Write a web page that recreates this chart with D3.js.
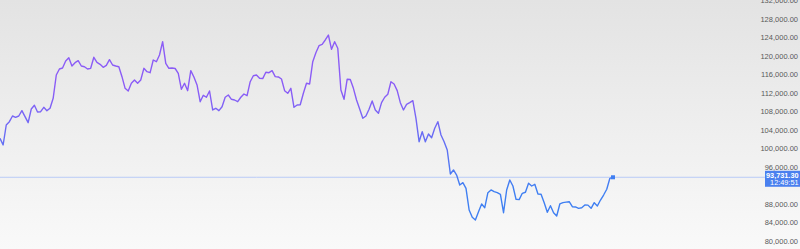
<!DOCTYPE html>
<meta charset="utf-8">
<style>
  body { margin: 0; overflow: hidden; }
  text { font-family: "Liberation Sans", Arial, sans-serif; }
</style>
<svg width="800" height="249"></svg>

<script src="https://cdn.jsdelivr.net/npm/d3@7"></script>
<script>

    // daily closes (first day = startDate)
    var startDate = new Date(2025, 5, 22)
    var prices = [
        102170, 100720, 105050, 105760, 107000, 106720, 107000, 108150, 106850, 105550,
        108510, 109310, 107860, 107930, 108880, 108150, 108670, 110830, 115870, 117170,
        117390, 118900, 119620, 117820, 118540, 118970, 117820, 117670, 117170, 117320,
        119710, 118620, 118190, 117540, 117970, 119190, 118040, 117820, 117670, 115510,
        112990, 112410, 114080, 114790, 114080, 114790, 117320, 116590, 116370, 119120,
        118750, 120200, 123080, 118410, 117320, 117400, 117280, 116240, 112780, 114080,
        112480, 116810, 115440, 113710, 110090, 111480, 111050, 112410, 108300, 108670,
        108150, 109010, 111050, 111540, 110610, 110460, 110090, 111050, 111760, 111390,
        114420, 115720, 115870, 115160, 115100, 116460, 116370, 116810, 115510, 115450,
        115010, 112480, 111910, 112990, 108880, 109380, 109420, 111910, 114080, 113930,
        118750, 120700, 122220, 122520, 123450, 124530, 121440, 123080, 121650, 112630,
        110610, 114940, 114900, 112990, 110460, 108510, 106500, 107000, 108450, 110250,
        108300, 107580, 109880, 111050, 111700, 114420, 113930, 112480, 109880, 108300,
        109530, 109880, 110310, 106500, 101430, 103600, 101430, 103100, 102300, 104330,
        105760, 102880, 101430, 99640, 94440, 95310, 94220, 92060, 92560, 91340,
        86650, 85070, 84480, 86280, 87950, 87140, 90390, 90980, 90610, 90390,
        90050, 86060, 90980, 93140, 91840, 88960, 88900, 90260, 90480, 92430,
        91840, 92210, 90110, 90050, 88230, 86150, 87580, 86060, 85350, 87950,
        88230, 88340, 88440, 87360, 87300, 87010, 87140, 87730, 87700, 87010,
        88230, 87510, 88810, 89890, 91130, 93510, 93731.3
    ]
    var dates = prices.map(function (p, i) { return d3.timeDay.offset(startDate, i) })
    var yTicks = [80000, 84000, 88000, 96000, 100000, 104000, 108000, 112000, 116000, 120000, 124000, 128000, 132000]
    var lastPrice = 93731.30
    var lastTime = '12:49:51'

    var width = 800
    var height = 249

    var svg = d3.select('svg')

    var x = d3.scaleTime()
        .domain([dates[0], dates[dates.length - 1]])
        .range([0, 613])

    var y = d3.scaleLinear()
        .domain([80000, 132000])
        .range([240.7, 0.5])

    var defs = svg.append('defs')

    var bg = defs.append('linearGradient')
        .attr('id', 'bg')
        .attr('x1', 0).attr('y1', 0).attr('x2', 0).attr('y2', 1)
    bg.append('stop').attr('offset', '0%').attr('stop-color', '#e3e3e3')
    bg.append('stop').attr('offset', '100%').attr('stop-color', '#f9f9f9')

    var lineGrad = defs.append('linearGradient')
        .attr('id', 'lineGrad')
        .attr('gradientUnits', 'userSpaceOnUse')
        .attr('x1', 0).attr('y1', 90).attr('x2', 0).attr('y2', 190)
    lineGrad.append('stop').attr('offset', '0%').attr('stop-color', '#8b5cf6')
    lineGrad.append('stop').attr('offset', '100%').attr('stop-color', '#3f7ff2')

    svg.append('rect')
        .attr('width', width)
        .attr('height', height)
        .attr('fill', 'url(#bg)')

    // price axis on the right
    var axis = svg.append('g')
        .attr('transform', 'translate(798,0)')
        .call(d3.axisLeft(y)
            .tickValues(yTicks)
            .tickSize(0)
            .tickPadding(0)
            .tickFormat(d3.format(',.2f')))
    axis.select('.domain').remove()
    axis.selectAll('text')
        .attr('fill', '#5a5a5a')
        .attr('font-size', 7.5)

    // current price line
    svg.append('line')
        .attr('x1', 0)
        .attr('x2', 766)
        .attr('y1', y(lastPrice))
        .attr('y2', y(lastPrice))
        .attr('stroke', '#b9cbf7')
        .attr('stroke-width', 1)

    var line = d3.line()
        .x(function (d, i) { return x(dates[i]) })
        .y(function (d) { return y(d) })

    svg.append('path')
        .datum(prices)
        .attr('d', line)
        .attr('fill', 'none')
        .attr('stroke', 'url(#lineGrad)')
        .attr('stroke-width', 1.4)
        .attr('stroke-linejoin', 'round')

    svg.append('rect')
        .attr('x', x(dates[dates.length - 1]) - 2)
        .attr('y', y(lastPrice) - 2)
        .attr('width', 4)
        .attr('height', 4)
        .attr('fill', '#3f7ff2')

    // price tag
    var tag = svg.append('g')
        .attr('transform', 'translate(765,' + (y(lastPrice) - 6.5) + ')')
    tag.append('rect')
        .attr('width', 35)
        .attr('height', 16)
        .attr('fill', '#4a80ef')
    tag.append('text')
        .attr('x', 33.5)
        .attr('y', 7)
        .attr('text-anchor', 'end')
        .attr('font-size', 7.3)
        .attr('font-weight', 'bold')
        .attr('fill', '#fff')
        .text(d3.format(',.2f')(lastPrice))
    tag.append('text')
        .attr('x', 33.5)
        .attr('y', 14.5)
        .attr('text-anchor', 'end')
        .attr('font-size', 7.3)
        .attr('fill', '#fff')
        .text(lastTime)

</script>
